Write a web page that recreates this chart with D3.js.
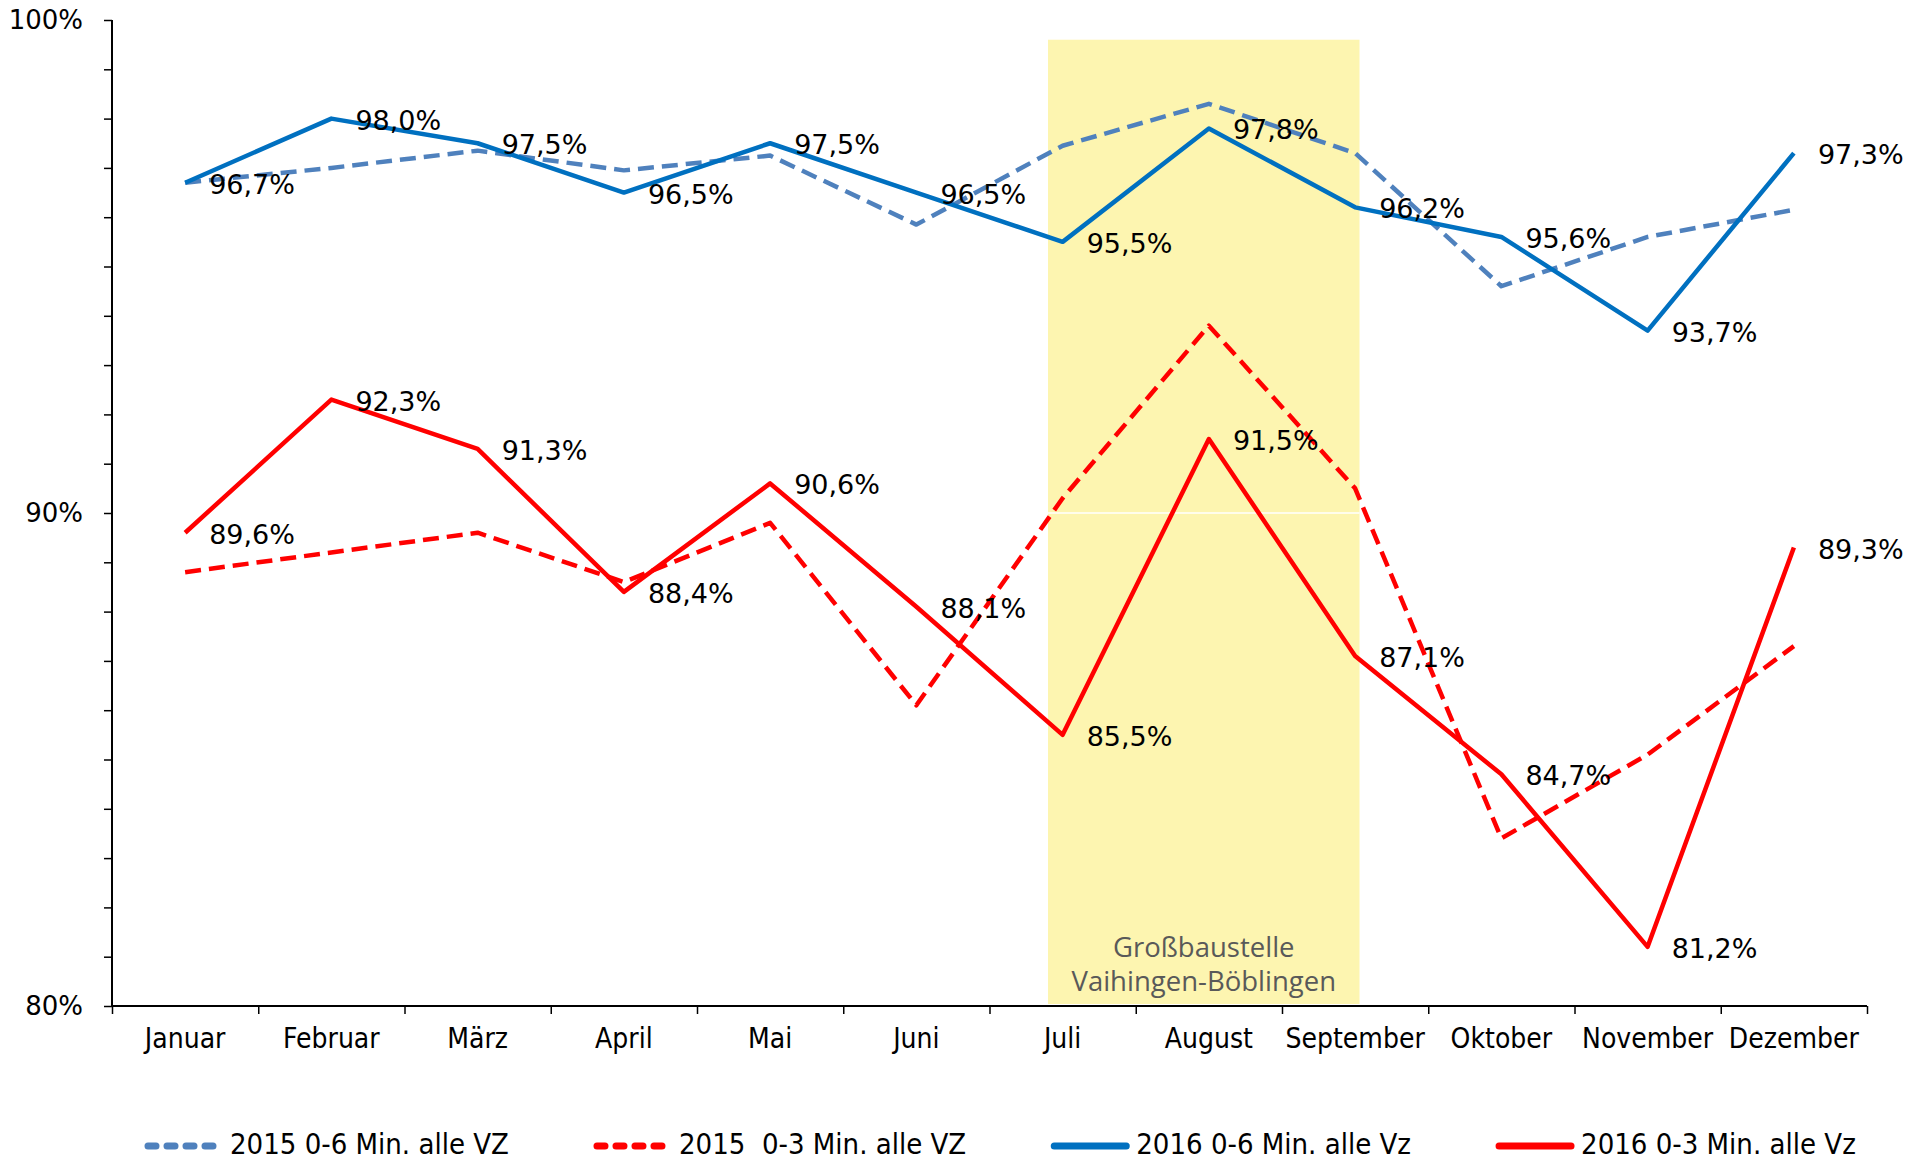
<!DOCTYPE html>
<html>
<head>
<meta charset="utf-8">
<script src="https://cdn.jsdelivr.net/npm/d3@7/dist/d3.min.js"></script>
<style>
  html, body { margin: 0; padding: 0; background: #ffffff; }
  svg { display: block; }
</style>
</head>
<body>
<svg id="chart" width="1917" height="1161"></svg>
<script>
// ---------------- data ----------------
const months = ["Januar","Februar","März","April","Mai","Juni","Juli","August","September","Oktober","November","Dezember"];

const s2015_06 = [96.7, 97.0, 97.35, 96.95, 97.25, 95.85, 97.45, 98.3, 97.3, 94.6, 95.6, 96.15];
const s2015_03 = [88.8, 89.2, 89.6, 88.6, 89.8, 86.1, 90.3, 93.8, 90.5, 83.4, 85.1, 87.3];
const s2016_06 = [96.7, 98.0, 97.5, 96.5, 97.5, 96.5, 95.5, 97.8, 96.2, 95.6, 93.7, 97.3];
const s2016_03 = [89.6, 92.3, 91.3, 88.4, 90.6, 88.1, 85.5, 91.5, 87.1, 84.7, 81.2, 89.3];

const seriesNames = ["2015 0-6 Min. alle VZ", "2015  0-3 Min. alle VZ", "2016 0-6 Min. alle Vz", "2016 0-3 Min. alle Vz"];
const yTickLabels = [80, 90, 100];
const bandLabel = ["Großbaustelle", "Vaihingen-Böblingen"];
const bandRange = [6.4, 8.53];   // in month units along the axis
const bandTop = 99.6;

// ---------------- layout ----------------
const svg = d3.select("#chart");
const mLeft = 112, mRight = 1867, mTop = 20, mBottom = 1006;

const xi = d3.scaleLinear().domain([0, 12]).range([mLeft, mRight]);
const xc = i => xi(i + 0.5);
const y = d3.scaleLinear().domain([80, 100]).range([mBottom, mTop]);

const series = [
  { name: seriesNames[0], values: s2015_06, color: "#4F81BD", dash: "16,8", labels: false },
  { name: seriesNames[1], values: s2015_03, color: "#FF0000", dash: "16,8", labels: false },
  { name: seriesNames[2], values: s2016_06, color: "#0070C0", dash: null, labels: true },
  { name: seriesNames[3], values: s2016_03, color: "#FF0000", dash: null, labels: true }
];

// yellow band
svg.append("rect")
  .attr("x", xi(bandRange[0]))
  .attr("y", y(bandTop))
  .attr("width", xi(bandRange[1]) - xi(bandRange[0]))
  .attr("height", y(80) - y(bandTop) - 2)
  .attr("fill", "#FDF5B0");

// white gridline at 90% (visible over band)
svg.append("line")
  .attr("x1", xi(bandRange[0])).attr("x2", xi(bandRange[1]))
  .attr("y1", y(90)).attr("y2", y(90))
  .attr("stroke", "#ffffff").attr("stroke-width", 1.5);

// band label
const bcx = (xi(bandRange[0]) + xi(bandRange[1])) / 2;
const bl = svg.append("text")
  .attr("text-anchor", "middle")
  .attr("font-family", "'Open Sans', sans-serif")
  .attr("font-size", 27.5)
  .attr("fill", "#595959");
bl.append("tspan").attr("x", bcx).attr("y", 957).text(bandLabel[0]);
bl.append("tspan").attr("x", bcx).attr("y", 991).text(bandLabel[1]);

// y axis
const yAxis = d3.axisLeft(y)
  .tickValues(d3.range(80, 101, 1))
  .tickSize(8)
  .tickPadding(21)
  .tickFormat(d => yTickLabels.includes(d) ? d + "%" : "");
const gy = svg.append("g").attr("transform", `translate(${mLeft},0)`).call(yAxis);
gy.select(".domain").attr("stroke", "#000").attr("stroke-width", 2).attr("d", `M0,${mTop}V${mBottom}`);
gy.selectAll(".tick line").attr("stroke", "#000").attr("stroke-width", 1.5);
gy.selectAll(".tick text")
  .attr("font-family", "'DejaVu Sans', sans-serif")
  .attr("font-size", 26)
  .attr("fill", "#000");

// x axis (ticks at month boundaries)
const xAxis = d3.axisBottom(xi)
  .tickValues(d3.range(0, 13))
  .tickSize(8)
  .tickFormat("");
const gx = svg.append("g").attr("transform", `translate(0,${mBottom})`).call(xAxis);
gx.select(".domain").attr("stroke", "#000").attr("stroke-width", 2).attr("d", `M${mLeft},0H${mRight}`);
gx.selectAll(".tick line").attr("stroke", "#000").attr("stroke-width", 1.5);

svg.append("g").selectAll("text")
  .data(months)
  .join("text")
  .attr("x", (d, i) => xc(i))
  .attr("y", 1048)
  .attr("text-anchor", "middle")
  .attr("font-family", "'DejaVu Sans Condensed', 'DejaVu Sans', sans-serif")
  .attr("font-stretch", "condensed")
  .attr("font-size", 28)
  .attr("fill", "#000")
  .text(d => d);

// lines
const line = d3.line().x((d, i) => xc(i)).y(d => y(d));
series.forEach(s => {
  svg.append("path")
    .datum(s.values)
    .attr("d", line)
    .attr("fill", "none")
    .attr("stroke", s.color)
    .attr("stroke-width", 4.5)
    .attr("stroke-linejoin", "round")
    .attr("stroke-dasharray", s.dash);
});

// data labels
series.filter(s => s.labels).forEach(s => {
  svg.append("g").selectAll("text")
    .data(s.values)
    .join("text")
    .attr("x", (d, i) => xc(i) + 24)
    .attr("y", d => y(d) + 11)
    .attr("font-family", "'DejaVu Sans', sans-serif")
    .attr("font-size", 27)
    .attr("fill", "#000")
    .text(d => d.toFixed(1).replace(".", ",") + "%");
});

// legend
const lg = svg.append("g");
let lx = 144;
const ly = 1146;
series.forEach(s => {
  const sample = lg.append("line")
    .attr("x1", lx + 4).attr("x2", lx + 76)
    .attr("y1", ly).attr("y2", ly)
    .attr("stroke", s.color)
    .attr("stroke-width", 7)
    .attr("stroke-linecap", "round");
  if (s.dash) sample.attr("stroke-dasharray", "8,11");
  const t = lg.append("text")
    .attr("x", lx + 86)
    .attr("y", 1154)
    .attr("font-family", "'DejaVu Sans Condensed', 'DejaVu Sans', sans-serif")
    .attr("font-stretch", "condensed")
    .attr("font-size", 29)
    .attr("fill", "#000")
    .style("white-space", "pre")
    .text(s.name);
  lx = lx + 86 + t.node().getComputedTextLength() + 84;
});
</script>
</body>
</html>
